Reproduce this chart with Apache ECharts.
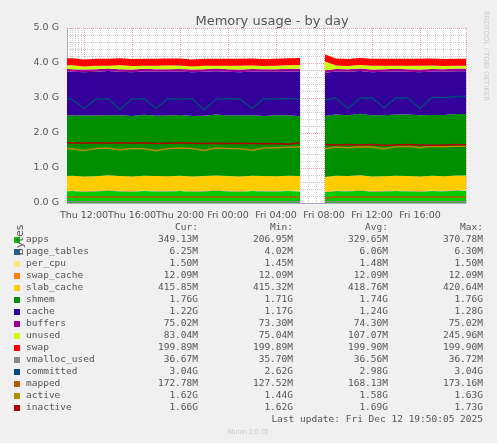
<!DOCTYPE html>
<html><head><meta charset="utf-8">
<script src="https://cdn.jsdelivr.net/npm/echarts@6/dist/echarts.min.js"></script>
<style>html,body{margin:0;padding:0;background:#f0f0f0}#c{width:497px;height:443px}</style>
</head><body><div id="c"></div>
<script>
const times = ["2025-12-11 10:35","2025-12-11 11:00","2025-12-11 12:00","2025-12-11 13:00","2025-12-11 14:00","2025-12-11 15:00","2025-12-11 16:00","2025-12-11 17:00","2025-12-11 18:00","2025-12-11 19:00","2025-12-11 20:00","2025-12-11 21:00","2025-12-11 22:00","2025-12-11 23:00","2025-12-12 00:00","2025-12-12 01:00","2025-12-12 02:00","2025-12-12 03:00","2025-12-12 04:00","2025-12-12 05:00","2025-12-12 06:00","2025-12-12 07:00","2025-12-12 08:05","2025-12-12 09:00","2025-12-12 10:00","2025-12-12 11:00","2025-12-12 12:00","2025-12-12 13:00","2025-12-12 14:00","2025-12-12 15:00","2025-12-12 16:00","2025-12-12 17:00","2025-12-12 18:00","2025-12-12 19:00","2025-12-12 19:50"];
const apps = [0.33,0.34,0.32,0.33,0.35,0.33,0.32,0.34,0.33,0.33,0.34,0.32,0.33,0.35,0.33,0.32,0.34,0.33,0.33,0.34,0.33,null,0.31,0.34,0.33,0.35,0.32,0.33,0.34,0.33,0.32,0.34,0.33,0.35,0.35];
const page_tables = [0.006,0.006,0.006,0.006,0.006,0.006,0.006,0.006,0.006,0.006,0.006,0.006,0.006,0.006,0.006,0.006,0.006,0.006,0.006,0.006,0.006,null,0.004,0.006,0.006,0.006,0.006,0.006,0.006,0.006,0.006,0.006,0.006,0.006,0.006];
const per_cpu = [0.0015,0.0015,0.0015,0.0015,0.0015,0.0015,0.0015,0.0015,0.0015,0.0015,0.0015,0.0015,0.0015,0.0015,0.0015,0.0015,0.0015,0.0015,0.0015,0.0015,0.0015,null,0.0015,0.0015,0.0015,0.0015,0.0015,0.0015,0.0015,0.0015,0.0015,0.0015,0.0015,0.0015,0.0015];
const swap_cache = [0.012,0.012,0.012,0.012,0.012,0.012,0.012,0.012,0.012,0.012,0.012,0.012,0.012,0.012,0.012,0.012,0.012,0.012,0.012,0.012,0.012,null,0.012,0.012,0.012,0.012,0.012,0.012,0.012,0.012,0.012,0.012,0.012,0.012,0.012];
const slab_cache = [0.42,0.42,0.419,0.418,0.42,0.419,0.418,0.419,0.42,0.418,0.417,0.419,0.42,0.418,0.419,0.418,0.417,0.419,0.418,0.42,0.419,null,0.415,0.418,0.419,0.42,0.419,0.418,0.42,0.419,0.418,0.417,0.418,0.416,0.416];
const shmem = [1.73,1.72,1.74,1.73,1.72,1.74,1.73,1.74,1.72,1.73,1.74,1.73,1.72,1.74,1.73,1.74,1.73,1.72,1.74,1.73,1.71,null,1.74,1.75,1.74,1.76,1.75,1.74,1.75,1.76,1.75,1.74,1.75,1.76,1.76];
const cache = [1.26,1.25,1.24,1.25,1.26,1.24,1.25,1.24,1.26,1.25,1.24,1.25,1.26,1.24,1.25,1.24,1.25,1.26,1.24,1.25,1.28,null,1.24,1.23,1.24,1.22,1.23,1.24,1.23,1.22,1.23,1.24,1.23,1.22,1.22];
const buffers = [0.074,0.074,0.074,0.074,0.074,0.074,0.074,0.074,0.074,0.074,0.074,0.074,0.074,0.074,0.074,0.074,0.074,0.074,0.074,0.074,0.074,null,0.073,0.074,0.074,0.074,0.075,0.075,0.075,0.075,0.075,0.075,0.075,0.075,0.075];
const unused = [0.1,0.11,0.09,0.1,0.08,0.11,0.1,0.09,0.1,0.11,0.1,0.09,0.1,0.08,0.1,0.11,0.1,0.09,0.1,0.1,0.11,null,0.246,0.1,0.09,0.1,0.11,0.1,0.09,0.1,0.11,0.1,0.09,0.08,0.083];
const swap = [0.2,0.2,0.2,0.2,0.2,0.2,0.2,0.2,0.2,0.2,0.2,0.2,0.2,0.2,0.2,0.2,0.2,0.2,0.2,0.2,0.2,null,0.2,0.2,0.2,0.2,0.2,0.2,0.2,0.2,0.2,0.2,0.2,0.2,0.2];
const vmalloc_used = [0.036,0.036,0.036,0.036,0.036,0.036,0.036,0.036,0.036,0.036,0.036,0.036,0.036,0.036,0.036,0.036,0.036,0.036,0.036,0.036,0.036,null,0.036,0.037,0.037,0.037,0.037,0.037,0.037,0.037,0.037,0.037,0.037,0.037,0.037];
const committed = [2.98,2.96,2.7,2.97,2.98,2.68,2.97,2.98,2.7,2.98,2.97,2.98,2.66,2.97,2.98,2.97,2.7,2.98,2.97,2.98,2.98,null,2.96,3.0,2.7,3.0,3.01,2.72,3.01,3.0,2.7,3.02,3.01,3.04,3.04];
const mapped = [0.17,0.17,0.168,0.17,0.17,0.169,0.17,0.168,0.17,0.17,0.169,0.17,0.168,0.17,0.17,0.169,0.17,0.17,0.168,0.17,0.17,null,0.128,0.17,0.171,0.17,0.172,0.17,0.171,0.172,0.171,0.172,0.173,0.173,0.173];
const active = [1.56,1.55,1.5,1.56,1.57,1.52,1.56,1.55,1.49,1.56,1.57,1.56,1.5,1.57,1.56,1.55,1.51,1.57,1.58,1.59,1.6,null,1.55,1.6,1.58,1.61,1.6,1.55,1.61,1.62,1.58,1.62,1.61,1.62,1.62];
const inactive = [1.72,1.72,1.71,1.72,1.71,1.72,1.71,1.72,1.70,1.71,1.72,1.71,1.70,1.71,1.70,1.71,1.70,1.69,1.70,1.68,1.72,null,1.67,1.66,1.67,1.66,1.67,1.65,1.66,1.67,1.66,1.65,1.66,1.67,1.66];

const names = ["apps","page_tables","per_cpu","swap_cache","slab_cache","shmem","cache","buffers","unused","swap","vmalloc_used","committed","mapped","active","inactive"];
const curV = ["349.13M","6.25M","1.50M","12.09M","415.85M","1.76G","1.22G","75.02M","83.04M","199.89M","36.67M","3.04G","172.78M","1.62G","1.66G"];
const minV = ["206.95M","4.02M","1.45M","12.09M","415.32M","1.71G","1.17G","73.30M","75.04M","199.89M","35.70M","2.62G","127.52M","1.44G","1.62G"];
const avgV = ["329.65M","6.06M","1.48M","12.09M","418.76M","1.74G","1.24G","74.30M","107.07M","199.90M","36.56M","2.98G","168.13M","1.58G","1.69G"];
const maxV = ["370.78M","6.30M","1.50M","12.09M","420.64M","1.76G","1.28G","75.02M","245.96M","199.90M","36.72M","3.04G","173.16M","1.63G","1.73G"];
const colors = ["#00cc00","#0066b3","#ffe680","#ff8000","#ffcc00","#008f00","#330099","#990099","#ccff00","#ff0000","#888888","#00487d","#b35a00","#b38f00","#b30000"];
const vals = [apps,page_tables,per_cpu,swap_cache,slab_cache,shmem,cache,buffers,unused,swap,vmalloc_used,committed,mapped,active,inactive];

const ts = times.map(t => new Date(t.replace(' ','T')+':00').getTime());
const series = names.map((n,i) => {
  const stacked = i < 10;
  return {
    name:n, type:'line', data: ts.map((t,k)=>[t, vals[i][k]]),
    stack: stacked ? 'mem' : undefined, step:false, symbol:'none', connectNulls:false,
    lineStyle:{width: stacked?0:1.5, color:colors[i]},
    areaStyle: stacked ? {color:colors[i], opacity:1} : undefined,
    itemStyle:{color:colors[i]}, z: stacked?2:3, silent:true
  };
});

const mono = '"DejaVu Sans Mono", monospace';
const g = [];
const hdr = [['Cur:',198],['Min:',293],['Avg:',388],['Max:',483]];
hdr.forEach(h=>g.push({type:'text',style:{text:h[0],x:h[1],y:228,textAlign:'right',textVerticalAlign:'middle',font:'9.5px '+mono,fill:'#555'}}));
names.forEach((n,i)=>{
  const y = 240 + i*12;
  g.push({type:'rect',shape:{x:14,y:y-3,width:6,height:6},style:{fill:colors[i]}});
  g.push({type:'text',style:{text:n,x:26,y:y,textVerticalAlign:'middle',font:'9.5px '+mono,fill:'#555'}});
  [curV,minV,avgV,maxV].forEach((arr,j)=>g.push({type:'text',style:{text:arr[i],x:hdr[j][1],y:y,textAlign:'right',textVerticalAlign:'middle',font:'9.5px '+mono,fill:'#555'}}));
});
g.push({type:'text',style:{text:'Last update: Fri Dec 12 19:50:05 2025',x:483,y:420,textAlign:'right',textVerticalAlign:'middle',font:'9.5px '+mono,fill:'#555'}});
g.push({type:'text',style:{text:'Munin 2.0.75',x:248,y:432,textAlign:'center',textVerticalAlign:'middle',font:'7px sans-serif',fill:'#ccc'}});
g.push({type:'text',style:{text:'Bytes',x:10,y:120,textAlign:'center',textVerticalAlign:'middle',font:'11px "DejaVu Sans"',fill:'#555'},rotation:Math.PI/2,x:10,y:120,originX:10,originY:120});
g.push({type:'text',style:{text:'RRDTOOL / TOBI OETIKER',x:486,y:56,textAlign:'center',textVerticalAlign:'middle',font:'7px "DejaVu Sans"',fill:'#ccc'},rotation:-Math.PI/2,originX:486,originY:56});

const chart = echarts.init(document.getElementById('c'));
chart.setOption({
  backgroundColor:'#f0f0f0', animation:false,
  title:{text:'Memory usage - by day',left:267,top:10,textAlign:'center',textStyle:{fontSize:13,fontWeight:'normal',color:'#555',fontFamily:'DejaVu Sans'}},
  grid:{left:67,right:31,top:28,bottom:240,backgroundColor:'#fff',show:true,borderWidth:0},
  xAxis:{type:'time',min:new Date('2025-12-11T10:35:00').getTime(),max:new Date('2025-12-12T19:50:00').getTime(),
    interval:6*3600*1000,
    axisLine:{lineStyle:{color:'#aab'}},axisTick:{show:false},
    axisLabel:{color:'#555',fontSize:9.5,fontFamily:'DejaVu Sans',formatter:v=>{const d=new Date(v);return (d.getDate()===11?'Thu ':'Fri ')+String(d.getHours()).padStart(2,'0')+':00';}},
    splitLine:{show:true,lineStyle:{color:'#e8a0a0',type:'dotted'}},
    minorTick:{show:false,splitNumber:6},minorSplitLine:{show:true,lineStyle:{color:'#ccc',type:'dotted'}}},
  yAxis:{type:'value',min:0,max:5,interval:1,
    axisLine:{show:true,lineStyle:{color:'#aab'}},axisTick:{show:false},
    axisLabel:{color:'#555',fontSize:9.5,fontFamily:'DejaVu Sans',formatter:v=>v.toFixed(1)+' G'},
    splitLine:{lineStyle:{color:'#e8a0a0',type:'dotted'}},
    minorTick:{show:false,splitNumber:5},minorSplitLine:{show:true,lineStyle:{color:'#ccc',type:'dotted'}}},
  series:series, graphic:g
});
</script></body></html>
